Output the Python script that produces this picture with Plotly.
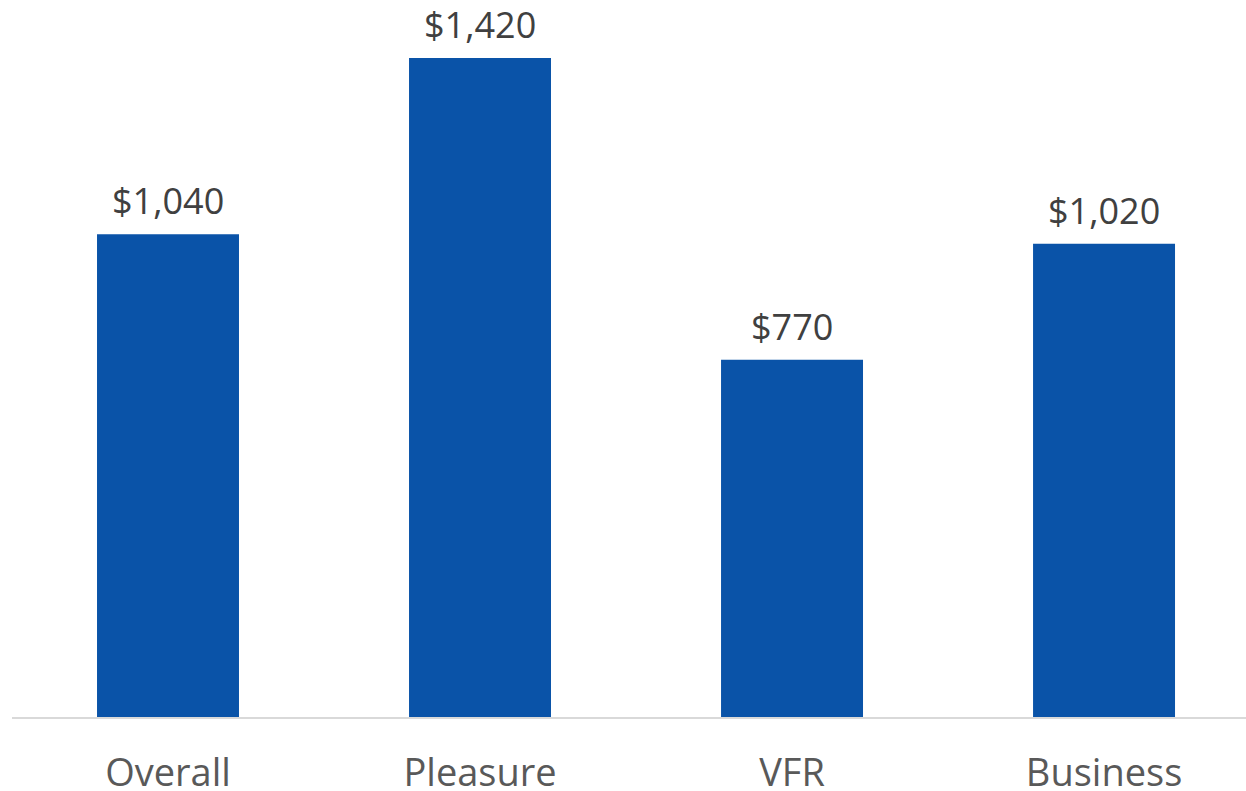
import plotly.graph_objects as go

categories = ["Overall", "Pleasure", "VFR", "Business"]
spend = [1040, 1420, 770, 1020]
labels = ["$1,040", "$1,420", "$770", "$1,020"]

FONT = "Open Sans, sans-serif"

fig = go.Figure(
    go.Bar(
        x=categories,
        y=spend,
        marker=dict(color="#0a53a8", line=dict(width=0)),
        hoverinfo="skip",
    )
)

# value labels sit a little above each bar top
for cat, val, lab in zip(categories, spend, labels):
    fig.add_annotation(
        x=cat,
        y=val,
        text=lab,
        showarrow=False,
        yanchor="bottom",
        yshift=7,
        font=dict(family=FONT, size=36, color="#404040"),
    )

fig.update_layout(
    width=1246,
    height=791,
    margin=dict(l=12, r=0, t=0, b=74, autoexpand=False),
    paper_bgcolor="white",
    plot_bgcolor="white",
    bargap=0.545,
    showlegend=False,
)

fig.update_xaxes(
    range=[-0.5, 3.455],
    automargin=False,
    showline=True,
    linecolor="#d9d9d9",
    linewidth=1.5,
    showgrid=False,
    ticks="outside",
    ticklen=22,
    tickcolor="rgba(0,0,0,0)",
    tickfont=dict(family=FONT, size=38, color="#595959"),
)

fig.update_yaxes(
    range=[0, 1545],
    automargin=False,
    visible=False,
    showgrid=False,
)

fig.write_html("out.html")
